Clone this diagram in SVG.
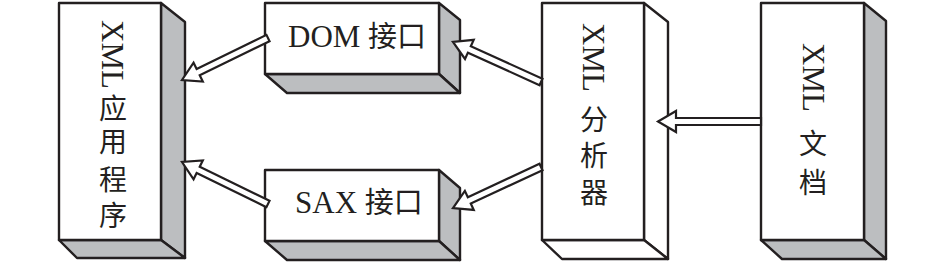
<svg xmlns="http://www.w3.org/2000/svg" width="946" height="263" viewBox="0 0 946 263">
<style>
.face{fill:#ffffff;stroke:#231f20;stroke-width:2.4;stroke-linejoin:round}
.side{fill:#bcbec0;stroke:#231f20;stroke-width:2.4;stroke-linejoin:round}
.wside{fill:#ffffff;stroke:#231f20;stroke-width:2.4;stroke-linejoin:round}
.arrow{fill:#ffffff;stroke:#231f20;stroke-width:2.2;stroke-linejoin:miter}
.lat{font-family:"Liberation Serif","Noto Sans CJK SC",serif;font-size:31px;fill:#231f20}
.cjk{font-family:"Noto Sans CJK SC","Liberation Serif",sans-serif;font-size:28px;fill:#231f20;writing-mode:vertical-rl}
</style>
<rect width="946" height="263" fill="#ffffff"/>
<g id="app">
<polygon class="side" points="161,3 185,22 185,258 161,240"/>
<polygon class="side" points="59,240 161,240 185,258 77,258"/>
<rect class="face" x="59" y="3" width="102" height="237"/>
<text class="lat" transform="translate(102,20) rotate(90)">XML</text>
<text class="cjk" x="113" y="94 127 165.5 201">应用程序</text>
</g>
<g id="dom">
<polygon class="side" points="439,3 460,20 460,93 439,74"/>
<polygon class="side" points="265,74 439,74 460,93 287,93"/>
<rect class="face" x="265" y="3" width="174" height="71"/>
<text class="lat" x="288" y="47">DOM <tspan style="font-family:'Noto Sans CJK SC',sans-serif;font-size:29px">接口</tspan></text>
</g>
<g id="sax">
<polygon class="side" points="439,170 460,188 460,260 439,241"/>
<polygon class="side" points="265,241 439,241 460,260 287,260"/>
<rect class="face" x="265" y="170" width="174" height="71"/>
<text class="lat" x="295" y="213">SAX <tspan style="font-family:'Noto Sans CJK SC',sans-serif;font-size:29px">接口</tspan></text>
</g>
<g id="parser">
<polygon class="wside" points="644,3 668,22 668,259 644,240"/>
<polygon class="wside" points="542,240 644,240 668,259 562,259"/>
<rect class="face" x="542" y="3" width="102" height="237"/>
<text class="lat" transform="translate(583,23) rotate(90)">XML</text>
<text class="cjk" x="594" y="105 141 178">分析器</text>
</g>
<g id="doc">
<polygon class="side" points="864,3 886,21 886,259 864,240"/>
<polygon class="side" points="761,240 864,240 886,259 782,259"/>
<rect class="face" x="761" y="3" width="103" height="237"/>
<text class="lat" transform="translate(803,43) rotate(90)">XML</text>
<text class="cjk" x="813" y="129 168">文档</text>
</g>
<g id="connectors">
<path class="arrow" transform="translate(761,121.5) rotate(180)" d="M0,-3.5 H85 V-10.5 L103,0 L85,10.5 V3.5 H0 Z"/>
<path class="arrow" transform="translate(541,82) rotate(-155.56)" d="M0,-3.5 H78.7 V-10.5 L96.7,0 L78.7,10.5 V3.5 H0 Z"/>
<path class="arrow" transform="translate(541,167) rotate(155.02)" d="M0,-3.5 H79.1 V-10.5 L97.1,0 L79.1,10.5 V3.5 H0 Z"/>
<path class="arrow" transform="translate(268,38) rotate(153.97)" d="M0,-3.5 H77.7 V-10.5 L95.7,0 L77.7,10.5 V3.5 H0 Z"/>
<path class="arrow" transform="translate(268,204) rotate(-153.97)" d="M0,-3.5 H77.7 V-10.5 L95.7,0 L77.7,10.5 V3.5 H0 Z"/>
</g>
</svg>
